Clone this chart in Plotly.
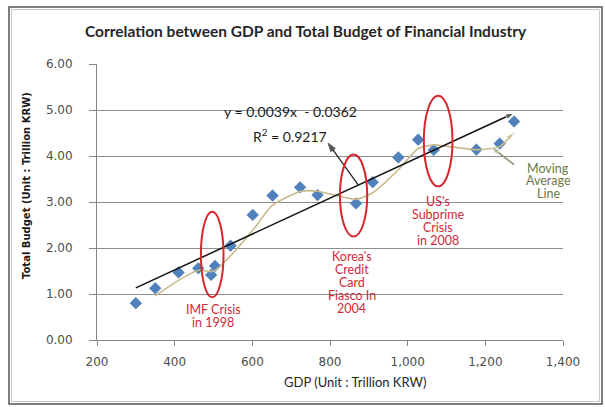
import plotly.graph_objects as go

# ---------------- data ----------------
gdp = [300, 350, 410, 461, 494, 504, 544, 601, 652, 723, 768, 867, 910, 976, 1027, 1067, 1177, 1237, 1274]
budget = [0.80, 1.125, 1.47, 1.56, 1.415, 1.61, 2.05, 2.72, 3.14, 3.32, 3.15, 2.97, 3.43, 3.97, 4.355, 4.13, 4.14, 4.27, 4.75]
slope = 0.0039
intercept = -0.0362
r_squared = 0.9217
x_tick_vals = [200, 400, 600, 800, 1000, 1200, 1400]
y_tick_vals = [0, 1, 2, 3, 4, 5, 6]

title_text = "Correlation between GDP and Total Budget of Financial Industry"
x_title = "GDP (Unit : Trillion KRW)"
y_title = "Total Budget (Unit : Trillion KRW)"
imf_label = ["IMF Crisis", "in 1998"]
korea_label = ["Korea's", "Credit", "Card", "Fiasco In", "2004"]
us_label = ["US's", "Subprime", "Crisis", "in 2008"]
ma_label = ["Moving", "Average", "Line"]

# moving average trendline (period 2), as Excel draws it
ma_x = gdp[1:]
ma_y = [(budget[i - 1] + budget[i]) / 2 for i in range(1, len(budget))]
# linear trendline from the displayed equation
fit_x = [min(gdp), max(gdp)]
fit_y = [slope * v + intercept for v in fit_x]
pointer_x = 873
pointer_y = slope * pointer_x + intercept
eq_pointer_head = (795, 4.28)
ma_callout_tail = (1274, 3.81)
ma_callout_head = (1215, 4.20)

# ---------------- layout helpers ----------------
W, H = 605, 407
ML, MR, MT, MB = 97, 42, 64, 67
PW, PH = W - ML - MR, H - MT - MB


def pxx(px):
    return (px - ML) / PW


def pxy(py):
    return (H - MB - py) / PH


BLUE = "#4f81bd"
TAN = "#c7b98c"
OLIVE = "#8b9474"
OLIVE_TXT = "#6b7a45"
RED = "#d7262c"
RED_TXT = "#d0283a"
FONT = "Lato"
TICKFONT = "DejaVu Sans"

fig = go.Figure()

fig.add_trace(go.Scatter(
    x=gdp, y=budget, mode="markers",
    marker=dict(symbol="diamond", size=9, color=BLUE, line=dict(width=0.5, color="#3e6fa8")),
    showlegend=False, hoverinfo="skip"))

fig.add_trace(go.Scatter(
    x=ma_x, y=ma_y, mode="lines",
    line=dict(color=TAN, width=1.6, shape="spline", smoothing=0.55),
    showlegend=False, hoverinfo="skip"))
fig.add_trace(go.Scatter(
    x=ma_x[-2:], y=ma_y[-2:], mode="markers",
    marker=dict(symbol=["circle", "arrow"], size=[0, 9], color=TAN, angleref="previous"),
    showlegend=False, hoverinfo="skip"))

fig.add_trace(go.Scatter(
    x=fit_x, y=fit_y, mode="lines+markers",
    line=dict(color="#111111", width=1.5),
    marker=dict(symbol=["circle", "arrow"], size=[0, 9], color="#111111", angleref="previous"),
    showlegend=False, hoverinfo="skip"))

# pointer from the trendline to the equation
fig.add_trace(go.Scatter(
    x=[pointer_x, eq_pointer_head[0]], y=[pointer_y, eq_pointer_head[1]], mode="lines+markers",
    line=dict(color="#222222", width=1.3),
    marker=dict(symbol=["square", "arrow"], size=[6, 9], color="#111111", angleref="previous"),
    showlegend=False, hoverinfo="skip"))

# callout from the label dot to the moving average
fig.add_trace(go.Scatter(
    x=[ma_callout_tail[0], ma_callout_head[0]], y=[ma_callout_tail[1], ma_callout_head[1]],
    mode="lines+markers",
    line=dict(color=OLIVE, width=1.6),
    marker=dict(symbol=["circle", "arrow"], size=[6, 9], color=OLIVE, angleref="previous"),
    showlegend=False, hoverinfo="skip"))

shapes = []
# outer chart border
shapes.append(dict(type="rect", xref="paper", yref="paper",
                   x0=pxx(9), x1=pxx(602), y0=pxy(404), y1=pxy(7),
                   line=dict(color="#555555", width=1.5), fillcolor="rgba(0,0,0,0)", layer="above"))
shapes.append(dict(type="rect", xref="paper", yref="paper",
                   x0=pxx(11.5), x1=pxx(599.5), y0=pxy(401.5), y1=pxy(9.5),
                   line=dict(color="#c8c8c8", width=1), fillcolor="rgba(0,0,0,0)", layer="above"))
# white label boxes covering gridlines
for (x0, x1, y0, y1) in [(218, 363, 101, 146), (320, 388, 244, 316), (400, 477, 195, 251)]:
    shapes.append(dict(type="rect", xref="paper", yref="paper",
                       x0=pxx(x0), x1=pxx(x1), y0=pxy(y1), y1=pxy(y0),
                       line=dict(width=0), fillcolor="white", layer="between"))
# red ellipses
for (x0, x1, y0, y1) in [(467.6, 525.8, 0.93, 2.79), (825.6, 895.8, 2.25, 4.03), (1041.6, 1115.4, 3.34, 5.31)]:
    shapes.append(dict(type="circle", xref="x", yref="y", x0=x0, x1=x1, y0=y0, y1=y1,
                       line=dict(color=RED, width=2), layer="above"))

annotations = []


def text(px, py, s, size, color, family=FONT, bold=False, angle=0):
    annotations.append(dict(
        xref="paper", yref="paper", x=pxx(px), y=pxy(py),
        text=("<b>%s</b>" % s) if bold else s, showarrow=False,
        xanchor="center", yanchor="middle", textangle=angle,
        font=dict(family=family, size=size, color=color)))


def lines(px, ys, items, size, color):
    for py, s in zip(ys, items):
        text(px, py, s, size, color)


text(306, 31, title_text, 15.5, "#262626", bold=True)
text(355, 382, x_title, 13, "#262626")
text(26, 186, y_title, 10, "#1a1a1a", family=TICKFONT, bold=True, angle=-90)

text(290, 111, "y = 0.0039x  - 0.0362", 14, "#1a1a1a")
text(290, 135, "R<sup>2</sup> = %.4f" % r_squared, 14, "#1a1a1a")

lines(213.3, [309.3, 322.7], imf_label, 12.5, RED_TXT)
lines(351.7, [256.7, 269.6, 282.5, 295.4, 308.3], korea_label, 12.5, RED_TXT)
lines(438.3, [201.7, 214.5, 227.3, 240.1], us_label, 12.5, RED_TXT)
lines(548.3, [168.0, 180.8, 193.6], ma_label, 12.5, OLIVE_TXT)

fig.update_layout(
    width=W, height=H,
    margin=dict(l=ML, r=MR, t=MT, b=MB, pad=0),
    paper_bgcolor="white", plot_bgcolor="white",
    shapes=shapes, annotations=annotations,
    showlegend=False,
    xaxis=dict(range=[200, 1400], tickvals=x_tick_vals, tickformat=",",
               showgrid=False, zeroline=False, showline=True, linecolor="#868686", linewidth=1,
               ticks="outside", ticklen=5, tickcolor="#868686",
               tickfont=dict(family=TICKFONT, size=12, color="#4d4d4d"),
               ticklabelstandoff=6, fixedrange=True),
    yaxis=dict(range=[0, 6], tickvals=y_tick_vals, tickformat=".2f",
               showgrid=True, gridcolor="#8f8f8f", gridwidth=1, zeroline=False,
               showline=True, linecolor="#868686", linewidth=1,
               ticks="outside", ticklen=7, tickcolor="#868686",
               tickfont=dict(family=TICKFONT, size=12, color="#4d4d4d"),
               ticklabelstandoff=14, fixedrange=True),
)

fig.write_html("out.html")
